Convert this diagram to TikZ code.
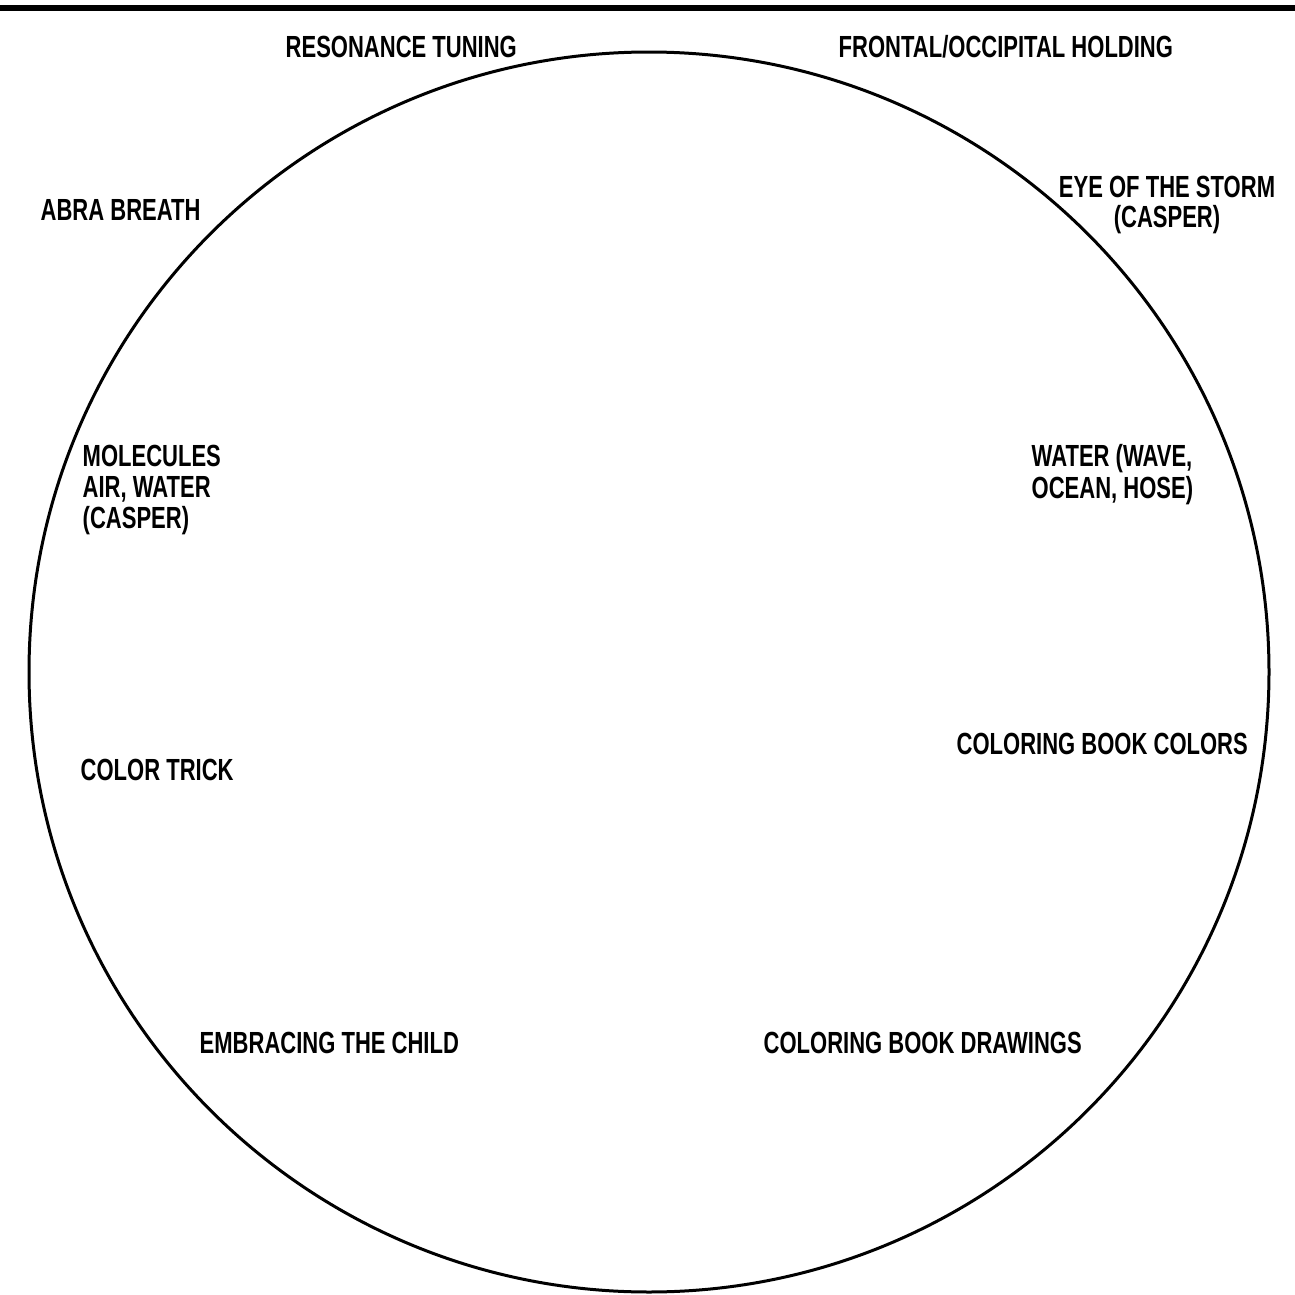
\documentclass[tikz,border=0pt]{standalone}
\usepackage{fontspec}
\setmainfont{Liberation Sans}[FakeStretch=0.72]
\begin{document}
\begin{tikzpicture}[x=0.1mm,y=-0.1mm,
  lab/.style={font=\bfseries\fontsize{8.7}{8.9}\selectfont, inner sep=0pt, anchor=base west, align=left},
  labc/.style={lab, align=center}]
\useasboundingbox (0,0) rectangle (1295,1295);
\fill[black] (0,5) rectangle (1295,11.5);
\node[draw, circle, line width=0.3mm, minimum size=124cm/10, inner sep=0pt] (wheel) at (649,672) {};
\node[lab] (res) at (285,58) {RESONANCE TUNING};
\node[lab] (fro) at (838,58) {FRONTAL/OCCIPITAL HOLDING};
\node[lab] (abra) at (40,221) {ABRA BREATH};
\node[labc, anchor=north] (eye) at (1167,175) {EYE OF THE STORM\\[-0.1mm](CASPER)};
\node[lab, anchor=north west] (mol) at (82,444) {MOLECULES\\AIR, WATER\\(CASPER)};
\node[lab, anchor=north west] (wat) at (1031,444) {WATER (WAVE,\\OCEAN, HOSE)};
\node[lab] (ct) at (80,780) {COLOR TRICK};
\node[lab] (cbc) at (956,754) {COLORING BOOK COLORS};
\node[lab] (emb) at (199,1053) {EMBRACING THE CHILD};
\node[lab] (cbd) at (763,1053) {COLORING BOOK DRAWINGS};
\end{tikzpicture}
\end{document}
